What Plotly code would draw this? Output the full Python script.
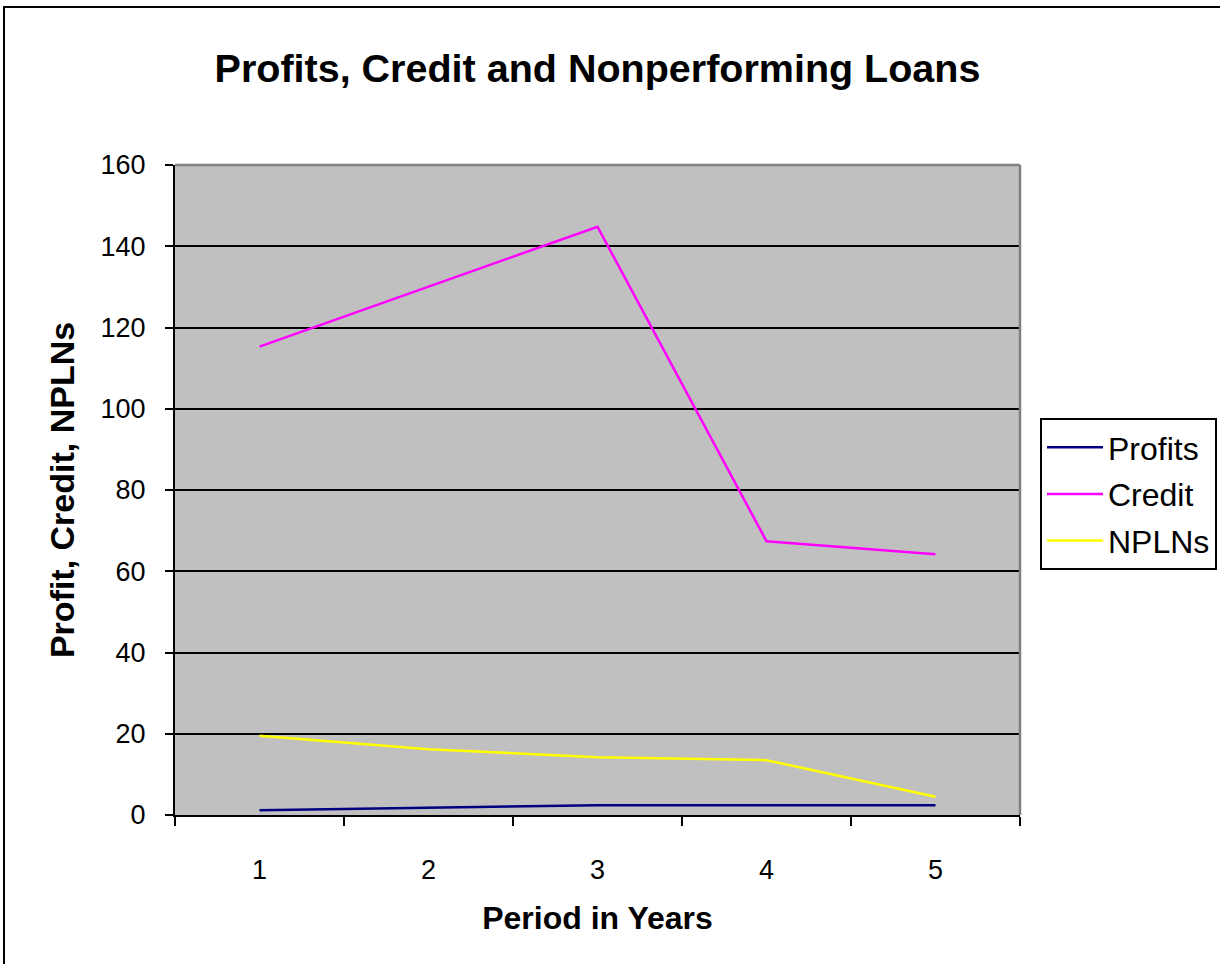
import plotly.graph_objects as go

periods = ["1", "2", "3", "4", "5"]
profits = [1.2, 1.8, 2.4, 2.4, 2.4]
credit = [115.3, 130.0, 144.8, 67.4, 64.2]
nplns = [19.5, 16.2, 14.2, 13.5, 4.5]

series_names = ["Profits", "Credit", "NPLNs"]
series_values = [profits, credit, nplns]
series_colors = ["#000080", "#FF00FF", "#FFFF00"]

y_ticks = [0, 20, 40, 60, 80, 100, 120, 140, 160]

FONT = "Liberation Sans, Arial, sans-serif"

fig = go.Figure()
for name, vals, col in zip(series_names, series_values, series_colors):
    fig.add_trace(go.Scatter(
        x=periods, y=vals, name=name, mode="lines",
        line=dict(color=col, width=2.5),
        legendgroup=name,
    ))

W, H = 1220, 964
L, R, T, B = 175, 200, 165, 149
pw = W - L - R
ph = H - T - B

def px_x(p):
    return (p - L) / pw

def px_y(p):
    return (H - B - p) / ph

fig.update_layout(
    width=W, height=H,
    margin=dict(l=L, r=R, t=T, b=B, autoexpand=False),
    paper_bgcolor="white",
    plot_bgcolor="#C0C0C0",
    font=dict(family=FONT, color="black", size=27),
    title=dict(
        text="<b>Profits, Credit and Nonperforming Loans</b>",
        x=0.5, xref="paper", xanchor="center",
        y=1 - 68 / H, yref="container", yanchor="middle",
        font=dict(family=FONT, size=39.5, color="black"),
    ),
    xaxis=dict(
        type="category",
        range=[-0.5, 4.5],
        tickson="boundaries",
        ticks="outside", ticklen=9, tickwidth=2, tickcolor="black",
        showline=True, linecolor="black", linewidth=2,
        showgrid=False, zeroline=False,
        ticklabelstandoff=30,
        tickfont=dict(family=FONT, size=27),
        title=dict(text="<b>Period in Years</b>", standoff=22,
                   font=dict(family=FONT, size=32)),
    ),
    yaxis=dict(
        range=[0, 160],
        tickmode="array", tickvals=y_ticks,
        ticks="outside", ticklen=8, tickwidth=2, tickcolor="black",
        showline=True, linecolor="black", linewidth=2,
        showgrid=True, gridcolor="black", gridwidth=1.5,
        zeroline=False,
        ticklabelstandoff=14,
        tickfont=dict(family=FONT, size=27),
        title=dict(text="<b>Profit, Credit, NPLNs</b>", standoff=16,
                   font=dict(family=FONT, size=34)),
    ),
    legend=dict(
        x=px_x(1040), y=px_y(418), xanchor="left", yanchor="top",
        bgcolor="white", bordercolor="black", borderwidth=2,
        font=dict(family=FONT, size=32, color="black"),
        traceorder="grouped", tracegroupgap=2,
        itemwidth=56,
    ),
    showlegend=True,
)

# gray top and right border of plot area
fig.add_shape(type="line", xref="paper", yref="paper", x0=0, x1=1, y0=1, y1=1,
              line=dict(color="#808080", width=2.5))
fig.add_shape(type="line", xref="paper", yref="paper", x0=1, x1=1, y0=0, y1=1,
              line=dict(color="#808080", width=2.5))
# outer chart border
fig.add_shape(type="rect", xref="paper", yref="paper",
              x0=px_x(4), x1=px_x(1230), y0=px_y(980), y1=px_y(7),
              line=dict(color="black", width=2), layer="below")

fig.write_html("out.html", config={"displayModeBar": False},
               post_script="document.body.style.margin='0px';")
